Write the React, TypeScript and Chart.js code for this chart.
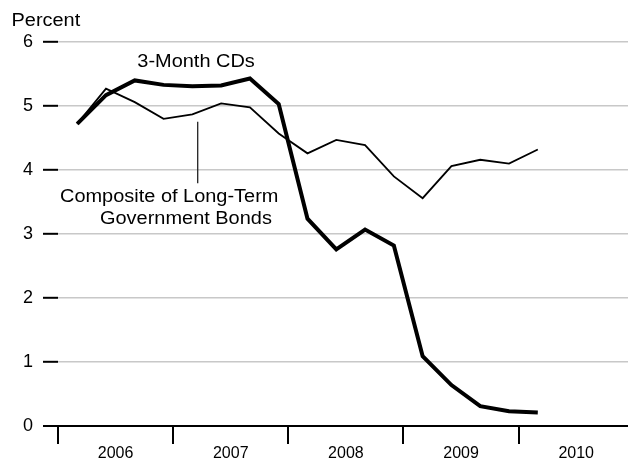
import React, { useEffect, useRef } from "react";
import { Chart, registerables } from "chart.js";

Chart.register(...registerables);

// Quarterly observations, 2006 Q1 – 2010 Q1
const quarters: string[] = [
  "2006 Q1", "2006 Q2", "2006 Q3", "2006 Q4",
  "2007 Q1", "2007 Q2", "2007 Q3", "2007 Q4",
  "2008 Q1", "2008 Q2", "2008 Q3", "2008 Q4",
  "2009 Q1", "2009 Q2", "2009 Q3", "2009 Q4",
  "2010 Q1",
];
const cdRates: number[] = [
  4.72, 5.17, 5.4, 5.33, 5.31, 5.32, 5.43, 5.03,
  3.24, 2.76, 3.07, 2.82, 1.09, 0.64, 0.31, 0.23, 0.21,
];
const bondRates: number[] = [
  4.72, 5.27, 5.06, 4.8, 4.87, 5.04, 4.98, 4.57,
  4.26, 4.47, 4.39, 3.9, 3.56, 4.06, 4.16, 4.1, 4.32,
];
const yearLabels: number[] = [2006, 2007, 2008, 2009, 2010];
const yTicks: number[] = [0, 1, 2, 3, 4, 5, 6];

const FONT = "'Liberation Sans', Arial, Helvetica, sans-serif";

function quarterToX(q: string): number {
  const [y, qq] = q.split(" Q");
  return Number(y) + (Number(qq) - 1) * 0.25 + 1 / 6;
}

function drawWide(ctx: CanvasRenderingContext2D, text: string, x: number, y: number) {
  ctx.save();
  ctx.translate(x, y);
  ctx.scale(1.14, 1);
  ctx.fillText(text, 0, 0);
  ctx.restore();
}

const annotationPlugin = {
  id: "annotations",
  afterDraw(chart: any) {
    const ctx = chart.ctx as CanvasRenderingContext2D;
    ctx.save();
    ctx.fillStyle = "#000";
    ctx.textAlign = "left";
    ctx.textBaseline = "alphabetic";
    ctx.font = `17.5px ${FONT}`;
    drawWide(ctx, "Percent", 11.5, 26);
    drawWide(ctx, "3-Month CDs", 137.3, 67.3);
    drawWide(ctx, "Composite of Long-Term", 60, 202.3);
    drawWide(ctx, "Government Bonds", 100, 224.3);
    ctx.restore();
    // leader line
    ctx.save();
    ctx.strokeStyle = "#222";
    ctx.lineWidth = 1.3;
    ctx.beginPath();
    ctx.moveTo(197.7, 121.7);
    ctx.lineTo(197.7, 183.3);
    ctx.stroke();
    ctx.restore();
  },
};

export default function App() {
  const ref = useRef<HTMLCanvasElement>(null);

  useEffect(() => {
    document.body.style.margin = "0";
    const canvas = ref.current;
    if (!canvas) return;
    const chart = new Chart(canvas, {
      type: "line",
      data: {
        datasets: [
          {
            label: "3-Month CDs",
            data: quarters.map((q, i) => ({ x: quarterToX(q), y: cdRates[i] })),
            borderColor: "#000",
            borderWidth: 4,
            pointRadius: 0,
            tension: 0,
            fill: false,
          },
          {
            label: "Composite of Long-Term Government Bonds",
            data: quarters.map((q, i) => ({ x: quarterToX(q), y: bondRates[i] })),
            borderColor: "#000",
            borderWidth: 1.8,
            pointRadius: 0,
            tension: 0,
            fill: false,
          },
        ],
      },
      options: {
        animation: false,
        responsive: true,
        maintainAspectRatio: false,
        layout: { padding: { top: 42, right: 0, left: 0, bottom: 0 } },
        plugins: {
          legend: { display: false },
          tooltip: { enabled: false },
        },
        scales: {
          x: {
            type: "linear",
            min: 2006,
            max: 2010.95,
            afterBuildTicks: (scale: any) => {
              scale.ticks = yearLabels.map((y) => ({ value: y + 0.5 }));
            },
            afterFit: (scale: any) => {
              scale.height = 35;
            },
            border: { display: false },
            grid: {
              offset: true,
              drawOnChartArea: false,
              drawTicks: true,
              tickLength: 18,
              color: "#000",
              lineWidth: 2,
            },
            ticks: {
              autoSkip: false,
              maxRotation: 0,
              padding: 0,
              color: "#000",
              font: { family: FONT, size: 16 },
              callback: (v: any) => String(Math.floor(Number(v))),
            },
          },
          y: {
            min: 0,
            max: 6,
            afterBuildTicks: (scale: any) => {
              scale.ticks = yTicks.map((v) => ({ value: v }));
            },
            afterFit: (scale: any) => {
              scale.width = 58;
            },
            border: { display: false },
            grid: {
              color: (c: any) => (c.tick && c.tick.value === 0 ? "#000" : "#c8c8c8"),
              lineWidth: (c: any) => (c.tick && c.tick.value === 0 ? 2 : 1.6),
              tickColor: "#000",
              tickWidth: 2,
              tickLength: 15,
            },
            ticks: {
              padding: 10,
              color: "#000",
              font: { family: FONT, size: 18 },
            },
          },
        },
      },
      plugins: [annotationPlugin],
    });
    return () => chart.destroy();
  }, []);

  return (
    <div style={{ width: 628, height: 461, position: "relative" }}>
      <canvas ref={ref} />
    </div>
  );
}
